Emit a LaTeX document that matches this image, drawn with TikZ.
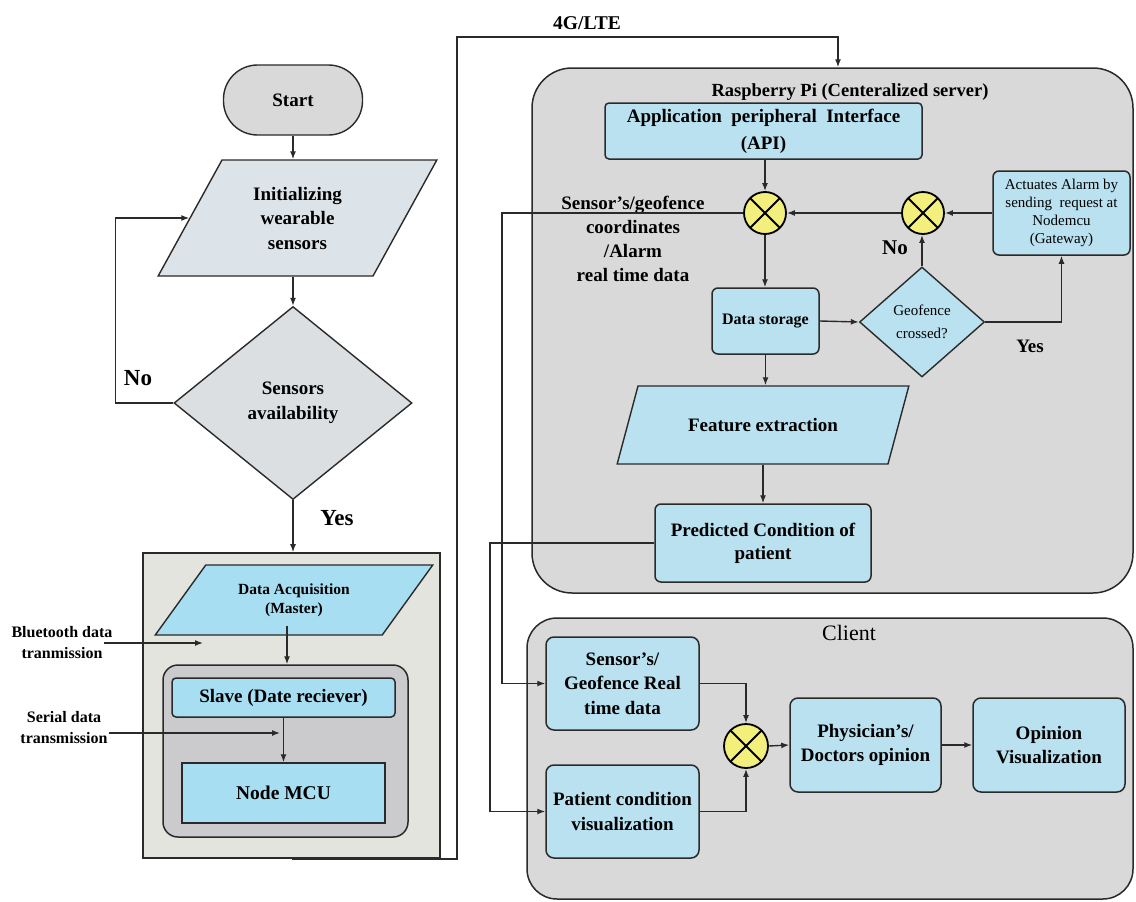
\documentclass[tikz,border=0pt]{standalone}
\usepackage{fontspec}
\setmainfont{Liberation Serif}
\usetikzlibrary{arrows.meta,shapes.geometric,calc}
\definecolor{boxblue}{HTML}{B9E1F0}
\definecolor{deepblue}{HTML}{A8DEF2}
\definecolor{startgray}{HTML}{D9D9D9}
\definecolor{initgray}{HTML}{DDE4E9}
\definecolor{diagray}{HTML}{DCDFE1}
\definecolor{acqbg}{HTML}{E4E4DE}
\definecolor{innergray}{HTML}{CBCBCD}
\definecolor{panelgray}{HTML}{D9D9D9}
\definecolor{xyellow}{HTML}{F2EF7C}
\definecolor{edge}{HTML}{2A2A2A}
\newcommand{\szmain}{\fontsize{19}{24.5}\selectfont}
\newcommand{\szbig}{\fontsize{23}{26}\selectfont}
\newcommand{\szmid}{\fontsize{18.5}{22}\selectfont}
\newcommand{\szsmall}{\fontsize{15.5}{19}\selectfont}
\newcommand{\sztiny}{\fontsize{15}{18}\selectfont}
\begin{document}
\begin{tikzpicture}[x=1pt,y=-1pt,
  every node/.style={font=\bfseries\szmain, text=black},
  conn/.style={draw=edge, line width=1.4pt, -{Latex[length=8pt,width=6pt]}},
  box/.style={draw=edge, line width=1.5pt, rounded corners=5pt, fill=boxblue, align=center, inner sep=2pt},
  para/.style={trapezium, trapezium stretches=true, draw=edge, line width=1.4pt, align=center, inner sep=0pt},
  panel/.style={draw=edge, line width=1.5pt, fill=panelgray},
  lbl/.style={align=center, inner sep=1pt},
  xcirc/.style={circle, draw=black, line width=1.8pt, fill=xyellow, minimum size=42pt, inner sep=0pt,
    path picture={\draw[line width=1.8pt] (path picture bounding box.north west) -- (path picture bounding box.south east)
      (path picture bounding box.north east) -- (path picture bounding box.south west);}},
]
\useasboundingbox (0,0) rectangle (1136,902);
\fill[white] (0,0) rectangle (1136,902);

% ---------- left column ----------
\node[draw=edge, line width=1.4pt, fill=startgray, rounded corners=34pt, minimum width=139pt, minimum height=70pt] (start) at (293,100) {Start};
\node[para, fill=initgray, trapezium left angle=59, trapezium right angle=121, minimum width=279pt, minimum height=116pt] (init) at (297.5,218) {Initializing\\wearable\\sensors};
\node[diamond, draw=edge, line width=1.4pt, fill=diagray, minimum width=238pt, minimum height=193pt, inner sep=0pt, align=center] (sens) at (293,403) {Sensors\\availability};

\draw[conn] (start.south) -- (start.south |- init.north);
\draw[conn] (sens.north |- init.south) -- (sens.north);
\draw[conn] (sens.west) -- ++(-58,0) |- (init.west);
\node[lbl, font=\bfseries\szbig] (nolbl) at (138,378) {No};

\node[draw=edge, line width=1.6pt, fill=acqbg, minimum width=297pt, minimum height=305pt, inner sep=0pt] (acqbox) at (291.5,705.5) {};
\draw[conn] (sens.south) -- (sens.south |- acqbox.north);
\node[lbl, font=\bfseries\szbig] (yeslbl) at (337,518) {Yes};

\node[para, fill=deepblue, trapezium left angle=46, trapezium right angle=134, minimum width=278pt, minimum height=70pt, font=\bfseries\szsmall] (acq) at (294,600) {Data Acquisition\\(Master)};
\node[draw=edge, line width=1.5pt, fill=innergray, rounded corners=15pt, minimum width=245pt, minimum height=172pt, inner sep=0pt] (inner) at (285.5,751) {};
\node[box, fill=deepblue, rounded corners=4pt, minimum width=223pt, minimum height=39pt] (slave) at (283.5,697.5) {Slave (Date reciever)};
\node[box, fill=deepblue, rounded corners=0pt, minimum width=203pt, minimum height=60pt, font=\bfseries\fontsize{19.5}{22}\selectfont] (mcu) at (283.5,793) {Node MCU};
\draw[conn] ([xshift=-7pt,yshift=10pt]acq.south) coordinate (a1) -- (a1 |- inner.north);
\draw[conn] (slave.south) -- (mcu.north);

\node[lbl, font=\bfseries\fontsize{16}{21}\selectfont] (bt) at (62,642.5) {Bluetooth data\\tranmission};
\coordinate (btend) at (203,643);
\draw[conn] ([xshift=-10pt]bt.east |- btend) -- (btend);
\node[lbl, font=\bfseries\fontsize{16}{21}\selectfont] (sr) at (64,727.5) {Serial data\\transmission};
\coordinate (srend) at (280,733);
\draw[conn] (sr.east |- srend) -- (srend);

% ---------- raspberry pi ----------
\node[panel, rounded corners=40pt, minimum width=601pt, minimum height=525pt, inner sep=0pt] (rasp) at (832.5,330.5) {};
\node[lbl, font=\bfseries\szmid] (rtitle) at (850,92) {Raspberry Pi (Centeralized server)};

\coordinate (g1) at (457,37);
\coordinate (g2) at (838,37);
\draw[conn] (acqbox.south) -| (g1) -- (g2) -- (g2 |- rasp.north);
\node[lbl, font=\bfseries\fontsize{19.5}{22}\selectfont] (lte) at (587,23) {4G/LTE};

\node[box, rounded corners=4pt, minimum width=317pt, minimum height=56pt, font=\bfseries\fontsize{19}{27}\selectfont] (api) at (763.5,131) {Application\ \ peripheral\ \ Interface\\(API)};
\node[xcirc] (c1) at (765,213) {};
\node[xcirc] (c2) at (923,213) {};
\node[box, rounded corners=6pt, minimum width=137pt, minimum height=84pt, font=\sztiny, inner sep=0pt] (act) at (1061.5,213) {Actuates Alarm by\\sending\ \ request at\\Nodemcu\\(Gateway)};
\node[box, rounded corners=6pt, minimum width=107pt, minimum height=66pt, font=\bfseries\fontsize{16}{19}\selectfont] (ds) at (765.5,321) {Data storage};
\node[diamond, draw=edge, line width=1.4pt, fill=boxblue, minimum width=125pt, minimum height=110pt, inner sep=0pt, align=center, font=\fontsize{15}{23}\selectfont] (geo) at (922,322) {Geofence\\crossed?};
\node[para, fill=boxblue, trapezium left angle=47, trapezium right angle=133, minimum width=292pt, minimum height=78pt] (feat) at (763,425) {Feature extraction};
\node[box, rounded corners=6pt, minimum width=216pt, minimum height=78pt, font=\bfseries\fontsize{19}{23}\selectfont] (pred) at (763,543) {Predicted Condition of\\patient};

\draw[conn] (c1 |- api.south) -- (c1.north);
\draw[conn] (act.west) -- (c2.east);
\draw[conn] (c2.west) -- (c1.east);
\draw[conn, line width=2pt] (geo.north) -- (geo.north |- c2.south);
\node[lbl, font=\bfseries\fontsize{21}{24}\selectfont] (nolbl2) at (895,248) {No};
\draw[conn] (c1.south) -- (c1.south |- ds.north);
\draw[conn] (ds.east) -- (geo.west);
\draw[conn] (geo.east) -| (act.south);
\node[lbl, font=\bfseries\fontsize{19}{22}\selectfont] (yeslbl2) at (1030,346) {Yes};
\draw[conn] (ds.south) -- (ds.south |- feat.north);
\draw[conn] (feat.south) -- (feat.south |- pred.north);

\node[lbl, font=\bfseries\fontsize{19}{24}\selectfont] (slbl) at (633,238.5) {Sensor's/geofence\\coordinates\\/Alarm\\real time data};

% ---------- client ----------
\node[panel, rounded corners=30pt, minimum width=606pt, minimum height=281pt, inner sep=0pt] (client) at (830,758.5) {};
\node[lbl, font=\fontsize{22}{24}\selectfont] (ctitle) at (849,633) {Client};
\node[box, rounded corners=8pt, minimum width=153pt, minimum height=93pt] (srt) at (622.5,683.5) {Sensor's/\\Geofence Real\\time data};
\node[box, rounded corners=8pt, minimum width=153pt, minimum height=93pt] (pcv) at (622.5,811.5) {Patient condition\\visualization};
\node[xcirc, minimum size=44pt] (c3) at (746,746) {};
\node[box, rounded corners=8pt, minimum width=151pt, minimum height=94pt] (phy) at (865.5,745) {Physician's/\\Doctors opinion};
\node[box, rounded corners=8pt, minimum width=152pt, minimum height=94pt] (opv) at (1049,745) {Opinion\\Visualization};

\coordinate (s1) at (502,213);
\draw[conn] (c1.west) -- (s1) |- (srt.west);
\coordinate (p1) at (490,543);
\draw[conn] (pred.west) -- (p1) |- (pcv.west);

\draw[conn] (srt.east) -| (c3.north);
\draw[conn] (pcv.east) -| (c3.south);
\draw[conn] (c3.east) -- (phy.west);
\draw[conn] (phy.east) -- (opv.west);
\end{tikzpicture}
\end{document}
